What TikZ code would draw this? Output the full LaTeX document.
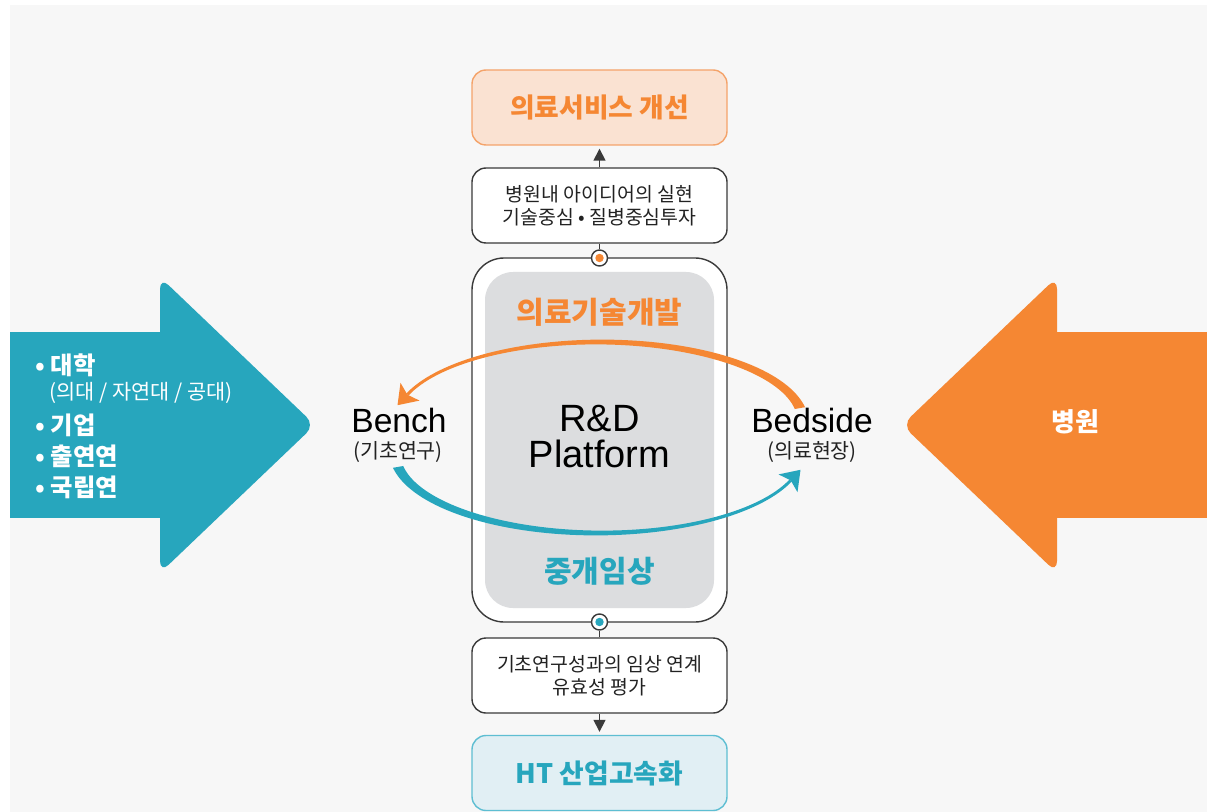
\documentclass[tikz,border=0pt]{standalone}
\usepackage{fontspec}
\setmainfont{Liberation Sans}
\newfontfamily\kr{Noto Sans CJK KR}
\usetikzlibrary{arrows.meta}
\definecolor{bg}{HTML}{F7F7F7}
\definecolor{tealc}{HTML}{27A6BD}
\definecolor{orgc}{HTML}{F58733}
\definecolor{orgfill}{HTML}{FAE2D2}
\definecolor{orgline}{HTML}{F4A36A}
\definecolor{bluefill}{HTML}{E1EFF4}
\definecolor{blueline}{HTML}{5EBED2}
\definecolor{dk}{HTML}{3A3A3A}
\definecolor{platgray}{HTML}{DCDDDF}
\definecolor{txt}{HTML}{222222}
\newcommand\tapearc[1]{%
  \fill[#1] plot[domain=10:160, samples=70, variable=\t]
    ({599+(204+1.6+3.6*((160-\t)/150)^2)*cos(\t)}, {422-(80+1.6+3.6*((160-\t)/150)^2)*sin(\t)})
    -- plot[domain=160:10, samples=70, variable=\t]
    ({599+(204-1.6-3.6*((160-\t)/150)^2)*cos(\t)}, {422-(80-1.6-3.6*((160-\t)/150)^2)*sin(\t)})
    -- cycle;
  \fill[#1] (407.3,394.6) -- (419.5,400.6) -- (397.5,405.2) -- (400.5,382.8) -- cycle;}
\begin{document}
\begin{tikzpicture}[x=0.5pt,y=-0.5pt,
  box/.style={draw=dk, line width=0.7pt, fill=white, rounded corners=7pt,
    minimum width=127.5pt, minimum height=37.5pt, inner sep=0pt, align=center,
    text=txt, font=\kr\fontsize{9.7}{11.5}\selectfont},
  goalbox/.style={line width=0.7pt, rounded corners=7pt, minimum width=127.5pt,
    minimum height=37.5pt, inner sep=0pt, font=\kr\bfseries\fontsize{13.4}{15}\selectfont},
  dot/.style={circle, draw=dk, fill=white, line width=0.7pt, minimum size=8pt, inner sep=0pt},
  link/.style={draw=dk, line width=0.75pt},
  arr/.style={link, -{Triangle[length=6pt,width=6pt]}, shorten >=1.5pt},
  item/.style={anchor=west, text=white, inner sep=0pt, font=\kr\bfseries\fontsize{12.2}{14}\selectfont},
  big/.style={font=\fontsize{16.8}{18}\selectfont, text=black, inner sep=0pt},
  sub/.style={font=\kr\fontsize{10.3}{12}\selectfont, text=txt, inner sep=0pt},
  tag/.style={font=\kr\bfseries\fontsize{15}{17}\selectfont, inner sep=0pt}
]
\useasboundingbox (0,0) rectangle (1218,812);
\fill[bg] (10,5) rectangle (1207,812);

% big side arrows
\fill[tealc] (10,332) rectangle (170,518);
\fill[tealc, rounded corners=6pt] (160,277) -- (315,425) -- (160,573) -- cycle;
\fill[orgc] (1047,332) rectangle (1207,518);
\fill[orgc, rounded corners=6pt] (1057,277) -- (902,425) -- (1057,573) -- cycle;

\node[item] (l1) at (35,365) {• 대학};
\node[item, font=\kr\fontsize{10.4}{12}\selectfont] (l2) at (49,393) {(의대 / 자연대 / 공대)};
\node[item] (l3) at (35,425) {• 기업};
\node[item] (l4) at (35,456) {• 출연연};
\node[item] (l5) at (35,487) {• 국립연};
\node[text=white, font=\kr\bfseries\fontsize{13}{15}\selectfont] (hosp) at (1075,422) {병원};

% platform
\node[draw=dk, line width=0.7pt, fill=white, rounded corners=16pt,
  minimum width=127.5pt, minimum height=182pt] (plat) at (599.5,440) {};
\node[fill=platgray, rounded corners=14pt, minimum width=114.5pt,
  minimum height=168pt, inner sep=0pt] (inner) at (599.5,440) {};
\node[tag, text=orgc] (dev) at (599.5,312) {의료기술개발};
\node[tag, text=tealc] (clin) at (599.5,571) {중개임상};
\node[align=center, font=\fontsize{19}{18}\selectfont, text=black, inner sep=0pt] (rd) at (599.5,437) {R\&D\\Platform};

% cycle arcs
\tapearc{orgc}
\begin{scope}[rotate around={180:(599,437.5)}]
\tapearc{tealc}
\end{scope}

\node[big] (bench) at (399,420) {Bench};
\node[sub] (benchk) at (398,452) {(기초연구)};
\node[big] (bed) at (812,420) {Bedside};
\node[sub] (bedk) at (812,452) {(의료현장)};

% top chain
\node[goalbox, draw=orgline, fill=orgfill, text=orgc] (top) at (599.5,107.5) {의료서비스 개선};
\node[box] (b2) at (599.5,205.5) {병원내 아이디어의 실현\\기술중심 • 질병중심투자};
\node[dot] (c1) at (599.5,258) {};
\fill[orgc] (c1) circle (2.1pt);
\draw[link] (b2.south) -- (c1.north);
\draw[arr] (b2.north) -- (top.south);

% bottom chain
\node[dot] (c2) at (599.5,622) {};
\fill[tealc] (c2) circle (2.1pt);
\node[box] (b3) at (599.5,675.5) {기초연구성과의 임상 연계\\유효성 평가};
\node[goalbox, draw=blueline, fill=bluefill, text=tealc] (bot) at (599.5,773) {HT 산업고속화};
\draw[link] (c2.south) -- (b3.north);
\draw[arr] (b3.south) -- (bot.north);
\end{tikzpicture}
\end{document}
